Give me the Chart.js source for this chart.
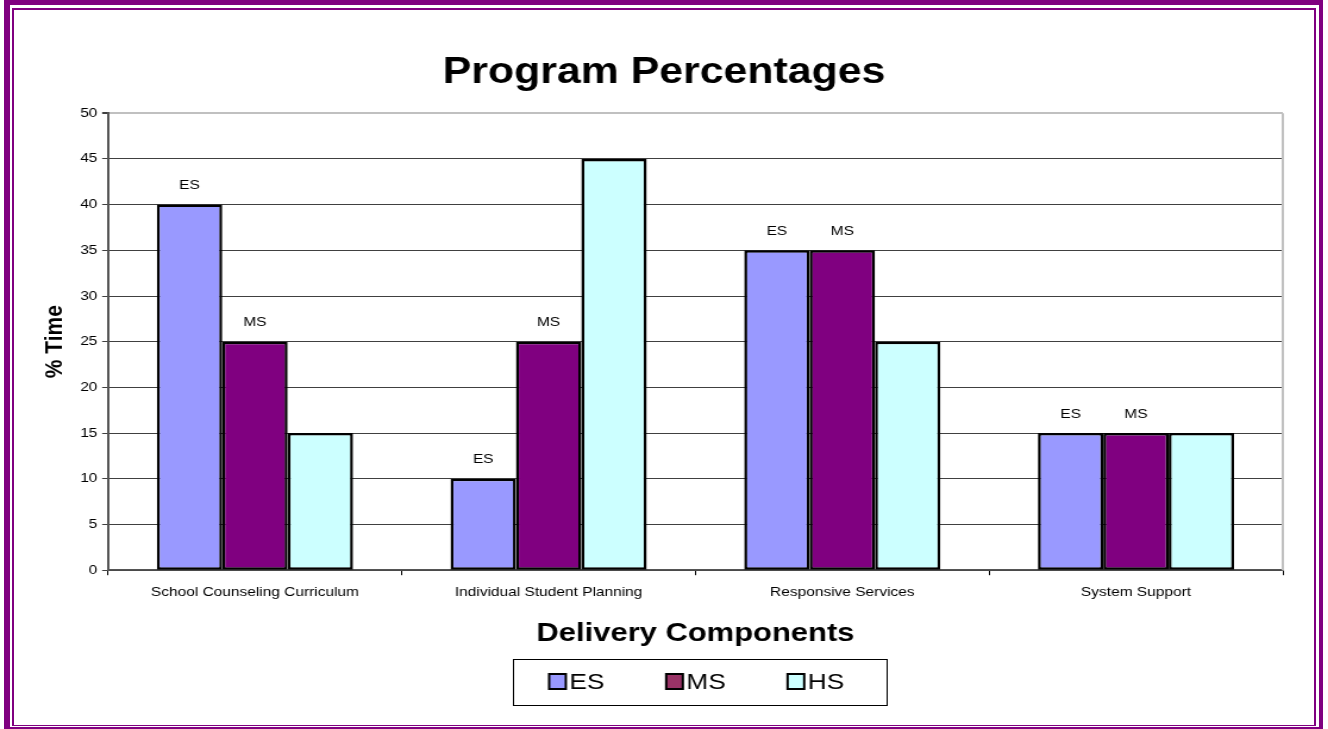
<!DOCTYPE html>
<html>
<head>
<meta charset="utf-8">
<script src="https://cdn.jsdelivr.net/npm/chart.js@4/dist/chart.umd.min.js"></script>
<style>
  html, body { margin: 0; padding: 0; background: #fff; }
  body { width: 1328px; height: 729px; position: relative; overflow: hidden; }
  .frame { position: absolute; box-sizing: border-box; border-style: solid; border-color: #800080; }
  #outer { left: 4px; top: 0; width: 1319px; height: 729px; border-width: 5px 4px 2px 6px; }
  #inner { left: 12px; top: 8px; width: 1304px; height: 718px; border-width: 2px 2px 1px 2px; }
  /* the source picture is stretched sideways, so the canvas is too */
  #chart { position: absolute; left: 0; top: 0; transform: scaleX(1.19); transform-origin: 0 0; }
</style>
</head>
<body>
<div id="outer" class="frame"></div>
<div id="inner" class="frame"></div>
<canvas id="chart" width="1116" height="729"></canvas>
<script>
const categories = ['School Counseling Curriculum', 'Individual Student Planning', 'Responsive Services', 'System Support'];
const seriesNames = ['ES', 'MS', 'HS'];
const esValues = [40, 10, 35, 15];
const msValues = [25, 25, 35, 15];
const hsValues = [15, 45, 25, 15];
const yTicks = [0, 5, 10, 15, 20, 25, 30, 35, 40, 45, 50];
// only these series get their name written over the bars
const labelledSeries = ['ES', 'MS'];

const barColors = ['#9999FF', '#800080', '#CCFFFF'];
const legendColors = ['#9999FF', '#993366', '#CCFFFF'];
const font = 'Arial, "Liberation Sans", sans-serif';

// series name above the bars
const barNames = {
  id: 'barNames',
  afterDatasetsDraw(chart) {
    const ctx = chart.ctx;
    ctx.save();
    ctx.font = '13px ' + font;
    ctx.fillStyle = '#000';
    ctx.textAlign = 'center';
    ctx.textBaseline = 'middle';
    chart.data.datasets.forEach((ds, i) => {
      if (!labelledSeries.includes(ds.label)) return;
      chart.getDatasetMeta(i).data.forEach((bar) => {
        ctx.fillText(ds.label, bar.x, bar.y - 19);
      });
    });
    ctx.restore();
  }
};

// grey right edge of the plot area
const plotEdge = {
  id: 'plotEdge',
  beforeDatasetsDraw(chart) {
    const a = chart.chartArea;
    const ctx = chart.ctx;
    ctx.save();
    ctx.strokeStyle = '#c0c0c0';
    ctx.lineWidth = 2;
    ctx.beginPath();
    ctx.moveTo(a.right, a.top);
    ctx.lineTo(a.right, a.bottom);
    ctx.stroke();
    ctx.restore();
  }
};

// boxed legend under the axis title
const boxLegend = {
  id: 'boxLegend',
  afterDraw(chart) {
    const ctx = chart.ctx;
    const a = chart.chartArea;
    const sets = chart.data.datasets;
    ctx.save();
    ctx.font = '22px ' + font;
    const mark = 14, gap = 3, spacing = 52, padL = 30, padR = 36;
    let w = padL + padR;
    sets.forEach((ds, i) => {
      w += mark + gap + ctx.measureText(ds.label).width;
      if (i < sets.length - 1) w += spacing;
    });
    const cx = (a.left + a.right) / 2 + 4;
    const top = 659, h = 46;
    let x = cx - w / 2;
    ctx.strokeStyle = '#000';
    ctx.lineWidth = 1;
    ctx.strokeRect(Math.round(x) + 0.5, top + 0.5, Math.round(w), h);
    const cy = top + h / 2;
    x += padL;
    sets.forEach((ds, i) => {
      ctx.fillStyle = legendColors[i];
      ctx.fillRect(x, cy - 8, mark, 15);
      ctx.lineWidth = 2;
      ctx.strokeStyle = '#000';
      ctx.strokeRect(x, cy - 8, mark, 15);
      ctx.fillStyle = '#000';
      ctx.textAlign = 'left';
      ctx.textBaseline = 'middle';
      ctx.fillText(ds.label, x + mark + gap, cy + 1);
      x += mark + gap + ctx.measureText(ds.label).width + spacing;
    });
    ctx.restore();
  }
};

const ctx = document.getElementById('chart').getContext('2d');
const myChart = new Chart(ctx, {
  type: 'bar',
  data: {
    labels: categories,
    datasets: [
      { label: seriesNames[0], data: esValues, backgroundColor: barColors[0] },
      { label: seriesNames[1], data: msValues, backgroundColor: barColors[1] },
      { label: seriesNames[2], data: hsValues, backgroundColor: barColors[2] }
    ].map((d) => Object.assign(d, {
      borderColor: '#000',
      borderWidth: 2.5,
      borderSkipped: false,
      categoryPercentage: 0.668,
      barPercentage: 1
    }))
  },
  options: {
    responsive: false,
    devicePixelRatio: 1,
    animation: false,
    layout: { padding: { left: 38, right: 38, top: 0, bottom: 80 } },
    plugins: {
      legend: { display: false },
      tooltip: { enabled: false },
      title: {
        display: true,
        text: 'Program Percentages',
        color: '#000',
        font: { family: font, size: 36, weight: 'bold' },
        padding: { top: 51, bottom: 19 }
      }
    },
    scales: {
      x: {
        grid: { drawOnChartArea: false, drawTicks: true, tickLength: 5, color: '#000', offset: true },
        border: { color: '#555', width: 1.5 },
        ticks: { color: '#000', font: { family: font, size: 13 }, padding: 9, maxRotation: 0 },
        title: {
          display: true,
          text: 'Delivery Components',
          color: '#000',
          font: { family: font, size: 26, weight: 'bold' },
          padding: { top: 9, bottom: 0 }
        }
      },
      y: {
        min: yTicks[0],
        max: yTicks[yTicks.length - 1],
        afterBuildTicks: (scale) => { scale.ticks = yTicks.map((v) => ({ value: v })); },
        grid: {
          color: (c) => (c.tick && c.tick.value === 50 ? '#c0c0c0' : '#404040'),
          lineWidth: (c) => (c.tick && c.tick.value === 50 ? 2 : 1),
          tickLength: 5,
          tickColor: '#404040'
        },
        border: { color: '#555', width: 2 },
        ticks: { color: '#000', font: { family: font, size: 13 }, padding: 4 },
        title: {
          display: true,
          text: '% Time',
          color: '#000',
          font: { family: font, size: 21, weight: 'bold', lineHeight: 0.78 },
          padding: { top: 0, bottom: 9 }
        }
      }
    }
  },
  plugins: [plotEdge, barNames, boxLegend]
});
</script>
</body>
</html>
